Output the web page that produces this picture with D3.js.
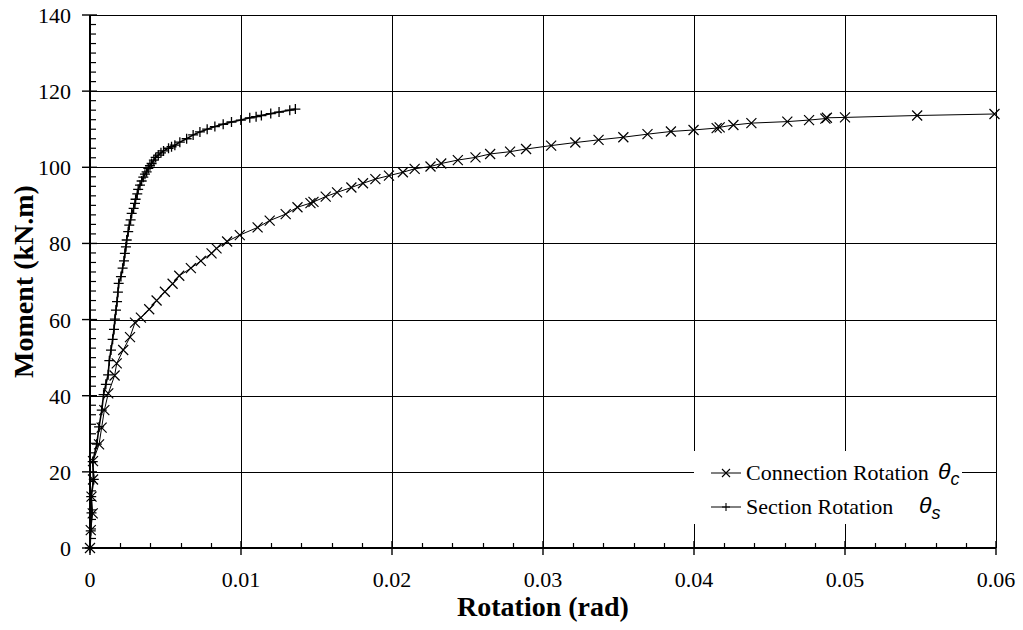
<!DOCTYPE html>
<html lang="en">
<head>
<meta charset="UTF-8">
<title>Moment - Rotation</title>
<script src="https://d3js.org/d3.v7.min.js"></script>
<style>
    body { margin: 0; background: #fff; }
    svg text { font-family: "Liberation Serif", "Times New Roman", Times, "DejaVu Serif", serif; }
    .tick-label { font-size: 22px; fill: #000; }
    .axis-title { font-size: 28px; font-weight: bold; fill: #000; }
    .legend-text { font-size: 22px; fill: #000; }
    svg text.theta { font-family: "Liberation Sans", Arial, sans-serif; font-style: italic; font-size: 23px; fill: #000; }
</style>
</head>
<body>
<script>
// Connection rotation (x markers): rotation (rad) and moment (kN.m)
const connRotation = [0, 0.00005, 0.00018, 0.0001, 0.0002, 0.0002, 0.0006, 0.00077, 0.00095, 0.00121,
    0.00163, 0.00177, 0.0022, 0.00265, 0.00298, 0.00337, 0.00392, 0.00441, 0.00496, 0.00547,
    0.00591, 0.00668, 0.00734, 0.00805, 0.00838, 0.00908, 0.00992, 0.0111, 0.0119, 0.01296,
    0.01374, 0.0146, 0.0148, 0.01561, 0.01636, 0.01731, 0.01808, 0.0189, 0.0198, 0.02072,
    0.0215, 0.02255, 0.02326, 0.02436, 0.02553, 0.0265, 0.02782, 0.02888, 0.03054, 0.03214,
    0.03368, 0.03532, 0.03692, 0.03847, 0.03997, 0.0415, 0.0417, 0.04261, 0.0438, 0.04618,
    0.04762, 0.0487, 0.0488, 0.05, 0.05478, 0.0599];
const connMoment = [0, 4.7, 9.1, 13.5, 18, 22.8, 27.2, 31.6, 36.2, 40.6,
    45.3, 48.5, 52.0, 55.4, 59.2, 60.5, 62.7, 65.0, 67.3, 69.4,
    71.5, 73.5, 75.4, 77.4, 78.7, 80.5, 82.2, 84.2, 86.0, 87.7,
    89.5, 90.6, 90.9, 92.3, 93.4, 94.7, 95.8, 96.9, 97.8, 98.7,
    99.6, 100.2, 101.0, 101.9, 102.6, 103.5, 104.1, 104.8, 105.7, 106.5,
    107.2, 107.9, 108.7, 109.4, 109.8, 110.3, 110.5, 111.1, 111.6, 112.0,
    112.4, 112.8, 113.0, 113.1, 113.6, 114.0];

// Section rotation (+ markers)
const secRotation = [0, 0.00005, 0.0001, 0.00008, 0.00025, 0.00018, 0.00045, 0.0006, 0.00078, 0.0009,
    0.00105, 0.0012, 0.00128, 0.00139, 0.0015, 0.00159, 0.00165, 0.00172, 0.00179, 0.00185,
    0.0019, 0.00205, 0.00216, 0.00225, 0.00231, 0.00238, 0.00243, 0.00253, 0.0026, 0.00269,
    0.00276, 0.00289, 0.00298, 0.00302, 0.00313, 0.00319, 0.00331, 0.00342, 0.00353, 0.00364,
    0.00375, 0.00386, 0.00397, 0.00408, 0.00423, 0.00435, 0.00452, 0.0047, 0.00487, 0.0052,
    0.0054, 0.00562, 0.00595, 0.0064, 0.00683, 0.00728, 0.00776, 0.00827, 0.00882, 0.00937,
    0.00999, 0.01058, 0.0110, 0.01135, 0.01197, 0.01252, 0.01323, 0.0136];
const secMoment = [0, 4.5, 9.2, 13.5, 18, 22.7, 27.3, 31.8, 36.2, 40.3,
    43.0, 45.5, 49.2, 52.0, 54.8, 57.4, 60.1, 62.5, 64.7, 67.2,
    69.5, 71.3, 73.5, 75.4, 77.4, 79.1, 80.9, 83.1, 84.8, 86.2,
    87.9, 89.2, 90.5, 91.6, 93.0, 94.2, 95.3, 96.4, 97.4, 98.2,
    98.8, 99.7, 100.4, 101.0, 101.9, 102.6, 103.2, 103.8, 104.3, 105.0,
    105.4, 105.8, 106.6, 107.5, 108.5, 109.3, 110.0, 110.7, 111.3, 111.9,
    112.4, 113.0, 113.3, 113.6, 114.1, 114.5, 115.0, 115.3];

const xTicks = [0, 0.01, 0.02, 0.03, 0.04, 0.05, 0.06];
const yTicks = [0, 20, 40, 60, 80, 100, 120, 140];

const width = 1023, height = 630;
const margin = { top: 15, right: 27, bottom: 82, left: 90 };

const svg = d3.select("body").append("svg")
    .attr("width", width)
    .attr("height", height);

const x = d3.scaleLinear().domain([0, 0.06]).range([margin.left, width - margin.right]);
const y = d3.scaleLinear().domain([0, 140]).range([height - margin.bottom, margin.top]);

// Grid lines
svg.append("g").selectAll("line")
    .data(yTicks.slice(1))
    .join("line")
    .attr("x1", x(0)).attr("x2", x(0.06))
    .attr("y1", d => Math.round(y(d)) + 0.5).attr("y2", d => Math.round(y(d)) + 0.5)
    .attr("stroke", "#000").attr("stroke-width", 1);

svg.append("g").selectAll("line")
    .data(xTicks.slice(1))
    .join("line")
    .attr("x1", d => Math.round(x(d)) + 0.5).attr("x2", d => Math.round(x(d)) + 0.5)
    .attr("y1", y(0)).attr("y2", y(140))
    .attr("stroke", "#000").attr("stroke-width", 1);

// Minor ticks (inside)
const xMinor = d3.range(0, 0.0601, 0.002).filter(v => Math.abs(v / 0.01 - Math.round(v / 0.01)) > 1e-6);
svg.append("g").selectAll("line")
    .data(xMinor)
    .join("line")
    .attr("x1", d => Math.round(x(d)) + 0.5).attr("x2", d => Math.round(x(d)) + 0.5)
    .attr("y1", y(0)).attr("y2", y(0) - 5)
    .attr("stroke", "#000").attr("stroke-width", 1.2);

const yMinor = d3.range(0, 140.1, 2.5).filter(v => v % 20 !== 0);
svg.append("g").selectAll("line")
    .data(yMinor)
    .join("line")
    .attr("x1", x(0)).attr("x2", x(0) + 6)
    .attr("y1", d => y(d)).attr("y2", d => y(d))
    .attr("stroke", "#000").attr("stroke-width", 1.2);

// Major ticks crossing the axes
svg.append("g").selectAll("line")
    .data(xTicks)
    .join("line")
    .attr("x1", d => x(d)).attr("x2", d => x(d))
    .attr("y1", y(0) - 7).attr("y2", y(0) + 7)
    .attr("stroke", "#000").attr("stroke-width", 1.4);

svg.append("g").selectAll("line")
    .data(yTicks)
    .join("line")
    .attr("x1", x(0) - 8).attr("x2", x(0) + 7)
    .attr("y1", d => y(d)).attr("y2", d => y(d))
    .attr("stroke", "#000").attr("stroke-width", 1.4);

// Axis lines
svg.append("line")
    .attr("x1", x(0)).attr("x2", x(0.06))
    .attr("y1", y(0)).attr("y2", y(0))
    .attr("stroke", "#000").attr("stroke-width", 2);
svg.append("line")
    .attr("x1", x(0)).attr("x2", x(0))
    .attr("y1", y(0)).attr("y2", y(140))
    .attr("stroke", "#000").attr("stroke-width", 2);

// Tick labels
svg.append("g").selectAll("text")
    .data(xTicks)
    .join("text")
    .attr("class", "tick-label")
    .attr("x", d => x(d))
    .attr("y", y(0) + 39)
    .attr("text-anchor", "middle")
    .text(d => d === 0 ? "0" : d3.format(".2f")(d));

svg.append("g").selectAll("text")
    .data(yTicks)
    .join("text")
    .attr("class", "tick-label")
    .attr("x", x(0) - 19)
    .attr("y", d => y(d) + 8)
    .attr("text-anchor", "end")
    .text(d => d);

// Axis titles
svg.append("text")
    .attr("class", "axis-title")
    .attr("x", (x(0) + x(0.06)) / 2)
    .attr("y", 616)
    .attr("text-anchor", "middle")
    .text("Rotation (rad)");

svg.append("text")
    .attr("class", "axis-title")
    .attr("text-anchor", "middle")
    .attr("transform", `translate(33, ${(y(0) + y(140)) / 2}) rotate(-90)`)
    .text("Moment (kN.m)");

// Series
const connData = connRotation.map((r, i) => ({ r, m: connMoment[i] }));
const secData = secRotation.map((r, i) => ({ r, m: secMoment[i] }));

const line = d3.line().x(d => x(d.r)).y(d => y(d.m));

svg.append("path")
    .datum(connData)
    .attr("fill", "none")
    .attr("stroke", "#000")
    .attr("stroke-width", 1)
    .attr("d", line);

svg.append("path")
    .datum(secData)
    .attr("fill", "none")
    .attr("stroke", "#000")
    .attr("stroke-width", 1.6)
    .attr("d", line);

const s = 5;
svg.append("g").selectAll("path")
    .data(connData)
    .join("path")
    .attr("d", d => `M${x(d.r) - s},${y(d.m) - s}L${x(d.r) + s},${y(d.m) + s}M${x(d.r) - s},${y(d.m) + s}L${x(d.r) + s},${y(d.m) - s}`)
    .attr("stroke", "#000")
    .attr("stroke-width", 1.2);

svg.append("g").selectAll("path")
    .data(secData)
    .join("path")
    .attr("d", d => `M${x(d.r) - s},${y(d.m)}L${x(d.r) + s},${y(d.m)}M${x(d.r)},${y(d.m) - s}L${x(d.r)},${y(d.m) + s}`)
    .attr("stroke", "#000")
    .attr("stroke-width", 1.3);

// Legend
const legend = svg.append("g");
legend.append("rect")
    .attr("x", 694).attr("y", 451)
    .attr("width", 268).attr("height", 73)
    .attr("fill", "#fff");

const rows = [
    { label: "Connection Rotation", sub: "c", marker: "x", y: 473, thetaX: 938 },
    { label: "Section Rotation", sub: "s", marker: "+", y: 507, thetaX: 919 }
];

rows.forEach(r => {
    legend.append("line")
        .attr("x1", 711).attr("x2", 741)
        .attr("y1", r.y).attr("y2", r.y)
        .attr("stroke", "#000").attr("stroke-width", 1);
    const m = 4;
    legend.append("path")
        .attr("d", r.marker === "x"
            ? `M${726 - m},${r.y - m}L${726 + m},${r.y + m}M${726 - m},${r.y + m}L${726 + m},${r.y - m}`
            : `M${726 - m},${r.y}L${726 + m},${r.y}M726,${r.y - m}L726,${r.y + m}`)
        .attr("stroke", "#000").attr("stroke-width", 1.1);
    legend.append("text")
        .attr("class", "legend-text")
        .attr("x", 746).attr("y", r.y + 7)
        .text(r.label);
    const t = legend.append("text")
        .attr("class", "theta")
        .attr("x", r.thetaX).attr("y", r.y + 6);
    t.append("tspan").text("θ");
    t.append("tspan").attr("dy", 6).attr("font-size", "18px").text(r.sub);
});
</script>
</body>
</html>
